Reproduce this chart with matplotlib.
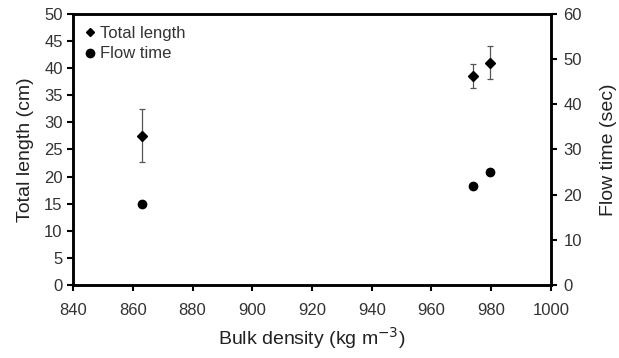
import matplotlib
matplotlib.use("Agg")
import matplotlib.pyplot as plt
from matplotlib.lines import Line2D

# ======================
# Data
# ======================
density = [863, 974, 979.5]
total_length = [27.5, 38.5, 41.0]
length_err = [4.9, 2.2, 3.0]
flow_time = [18, 22, 25]

# ======================
# Plot
# ======================
plt.rcParams["font.family"] = ["Liberation Sans", "DejaVu Sans"]

fig, ax = plt.subplots(figsize=(6.19, 3.58), dpi=100)
fig.subplots_adjust(left=0.118, right=0.890, top=0.961, bottom=0.204)

ax2 = ax.twinx()

ax.errorbar(density, total_length, yerr=length_err, fmt="D", color="black",
            ms=4.8, ecolor="#555555", elinewidth=0.9, capsize=2.5, capthick=0.9,
            zorder=3)
ax2.plot(density, flow_time, "o", color="black", ms=6)

ax.set_xlim(840, 1000)
ax.set_ylim(0, 50)
ax2.set_ylim(0, 60)
ax.set_xticks(range(840, 1001, 20))
ax.set_yticks(range(0, 51, 5))
ax2.set_yticks(range(0, 61, 10))

ax.set_xlabel("Bulk density (kg m$^{-3}$)", fontsize=14, color="#222222",
              labelpad=5)
ax.set_ylabel("Total length (cm)", fontsize=14, color="#222222", labelpad=7)
ax2.set_ylabel("Flow time (sec)", fontsize=14, color="#222222", labelpad=13)

for a in (ax, ax2):
    a.tick_params(direction="out", width=1.5, length=4, labelsize=12,
                  labelcolor="#333333")
    for s in a.spines.values():
        s.set_linewidth(1.8)
ax.tick_params(axis="x", pad=9)
ax2.tick_params(axis="y", pad=5)

# legend with plain markers
handles = [
    Line2D([], [], marker="D", ls="none", color="black", ms=4),
    Line2D([], [], marker="o", ls="none", color="black", ms=6),
]
ax.legend(handles, ["Total length", "Flow time"], loc="upper left",
          frameon=False, fontsize=12, handlelength=0.6, handletextpad=0.3,
          labelspacing=0.35, borderaxespad=0.3, labelcolor="#333333")

plt.savefig("out.png", dpi=100)
